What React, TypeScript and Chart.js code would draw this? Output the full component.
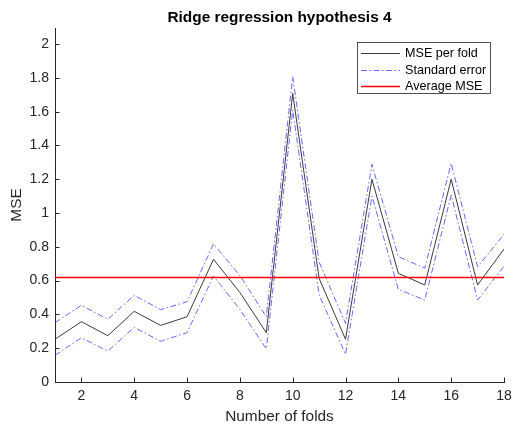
import React, { useEffect, useRef } from 'react';
import { Chart, registerables } from 'chart.js';

Chart.register(...registerables);

const folds = [1, 2, 3, 4, 5, 6, 7, 8, 9, 10, 11, 12, 13, 14, 15, 16, 17, 18];
const msePerFold = [0.253, 0.357, 0.274, 0.418, 0.335, 0.386, 0.726, 0.53, 0.292, 1.708, 0.613, 0.253, 1.2, 0.643, 0.574, 1.2, 0.574, 0.787];
const seUpper = [0.351, 0.454, 0.371, 0.513, 0.428, 0.475, 0.817, 0.63, 0.386, 1.807, 0.71, 0.347, 1.288, 0.742, 0.673, 1.294, 0.682, 0.874];
const seLower = [0.158, 0.262, 0.183, 0.323, 0.241, 0.292, 0.627, 0.43, 0.196, 1.61, 0.516, 0.164, 1.1, 0.548, 0.485, 1.106, 0.485, 0.686];
const averageMse = 0.618;
const xTicks = [2, 4, 6, 8, 10, 12, 14, 16, 18];
const yTicks = [0, 0.2, 0.4, 0.6, 0.8, 1, 1.2, 1.4, 1.6, 1.8, 2];
const legendLabels = ['MSE per fold', 'Standard error', 'Average MSE'];
const chartTitle = 'Ridge regression hypothesis 4';

const FONT = '"Liberation Sans", Arial, Helvetica, sans-serif';
const AXIS_COLOR = '#262626';
const BLACK_LINE = '#3a3a3a';
const BLUE_LINE = 'rgba(50, 50, 255, 0.75)';
const RED_LINE = '#ff0000';
const DASH_DOT = [6, 2.5, 1.5, 2.5];

const decorPlugin = {
  id: 'decor',
  afterDatasetsDraw(chart: any) {
    const { ctx, chartArea, scales } = chart;
    const xs = scales.x;
    const ys = scales.y;
    ctx.save();
    // title centred over the plot area
    ctx.fillStyle = '#000000';
    ctx.font = `bold 15.4px ${FONT}`;
    ctx.textAlign = 'center';
    ctx.textBaseline = 'middle';
    ctx.fillText(chartTitle, (chartArea.left + chartArea.right) / 2, 17.5);

    // inward ticks
    ctx.strokeStyle = AXIS_COLOR;
    ctx.lineWidth = 1;
    ctx.setLineDash([]);
    const tl = 4.5;
    ctx.beginPath();
    for (const v of xTicks) {
      const px = Math.round(xs.getPixelForValue(v)) + 0.5;
      ctx.moveTo(px, chartArea.bottom);
      ctx.lineTo(px, chartArea.bottom - tl);
    }
    for (const v of yTicks) {
      const py = Math.round(ys.getPixelForValue(v)) + 0.5;
      ctx.moveTo(chartArea.left, py);
      ctx.lineTo(chartArea.left + tl, py);
    }
    ctx.stroke();

    // legend box
    const bx = 357.5;
    const by = 42.5;
    const bw = 133;
    const bh = 51;
    ctx.fillStyle = '#ffffff';
    ctx.fillRect(bx, by, bw, bh);
    ctx.strokeStyle = '#262626';
    ctx.lineWidth = 0.8;
    ctx.strokeRect(bx, by, bw, bh);

    const rows = [53, 70, 86];
    const styles = [
      { color: BLACK_LINE, width: 1, dash: [] as number[] },
      { color: BLUE_LINE, width: 1, dash: DASH_DOT },
      { color: RED_LINE, width: 1.6, dash: [] as number[] },
    ];
    ctx.font = `12.6px ${FONT}`;
    ctx.textBaseline = 'middle';
    ctx.textAlign = 'left';
    legendLabels.forEach((label, i) => {
      const s = styles[i];
      ctx.strokeStyle = s.color;
      ctx.lineWidth = s.width;
      ctx.setLineDash(s.dash);
      ctx.beginPath();
      ctx.moveTo(361, rows[i] + 0.5);
      ctx.lineTo(400, rows[i] + 0.5);
      ctx.stroke();
      ctx.setLineDash([]);
      ctx.fillStyle = '#000000';
      ctx.fillText(label, 405, rows[i] + 1);
    });
    ctx.restore();
  },
};

export default function App() {
  const canvasRef = useRef<HTMLCanvasElement | null>(null);

  useEffect(() => {
    const canvas = canvasRef.current;
    if (!canvas) return;
    const toPoints = (arr: number[]) => folds.map((f, i) => ({ x: f, y: arr[i] }));
    const chart = new Chart(canvas, {
      type: 'line',
      data: {
        datasets: [
          {
            label: legendLabels[0],
            data: toPoints(msePerFold),
            borderColor: BLACK_LINE,
            borderWidth: 1,
            pointRadius: 0,
            tension: 0,
            order: 3,
          },
          {
            label: legendLabels[1],
            data: toPoints(seUpper),
            borderColor: BLUE_LINE,
            borderWidth: 1,
            borderDash: DASH_DOT,
            pointRadius: 0,
            tension: 0,
            order: 2,
          },
          {
            label: legendLabels[1] + ' (lower)',
            data: toPoints(seLower),
            borderColor: BLUE_LINE,
            borderWidth: 1,
            borderDash: DASH_DOT,
            pointRadius: 0,
            tension: 0,
            order: 1,
          },
          {
            label: legendLabels[2],
            data: [
              { x: folds[0], y: averageMse },
              { x: folds[folds.length - 1], y: averageMse },
            ],
            borderColor: RED_LINE,
            borderWidth: 1.6,
            pointRadius: 0,
            tension: 0,
            order: 0,
          },
        ],
      },
      options: {
        responsive: false,
        animation: false,
        devicePixelRatio: 1,
        layout: { padding: { left: 0, right: 8, top: 28, bottom: 0 } },
        plugins: {
          legend: { display: false },
          tooltip: { enabled: false },
          title: { display: false },
        },
        scales: {
          x: {
            type: 'linear',
            min: 1,
            max: 18,
            afterBuildTicks: (s: any) => {
              s.ticks = xTicks.map((v) => ({ value: v }));
            },
            afterFit: (s: any) => {
              s.height = 45;
              s.paddingLeft = 0;
              s.paddingRight = 0;
            },
            ticks: {
              color: AXIS_COLOR,
              font: { family: FONT, size: 14 },
              padding: 6,
              maxRotation: 0,
              autoSkip: false,
              callback: (v: any) => String(v),
            },
            grid: { display: false, drawTicks: false },
            border: { display: true, color: AXIS_COLOR, width: 1 },
            title: {
              display: true,
              text: 'Number of folds',
              color: AXIS_COLOR,
              font: { family: FONT, size: 15.4 },
              padding: { top: 0, bottom: 1.3 },
            },
          },
          y: {
            type: 'linear',
            min: 0,
            max: 2.095,
            afterBuildTicks: (s: any) => {
              s.ticks = yTicks.map((v) => ({ value: v }));
            },
            afterFit: (s: any) => {
              s.width = 55;
              s.paddingTop = 0;
              s.paddingBottom = 0;
            },
            ticks: {
              color: AXIS_COLOR,
              font: { family: FONT, size: 14 },
              padding: 6,
              autoSkip: false,
              callback: (v: any) => String(Math.round(Number(v) * 10) / 10),
            },
            grid: { display: false, drawTicks: false },
            border: { display: true, color: AXIS_COLOR, width: 1 },
            title: {
              display: true,
              text: 'MSE',
              color: AXIS_COLOR,
              font: { family: FONT, size: 15.4 },
              padding: { top: 7.8, bottom: 0 },
            },
          },
        },
      },
      plugins: [decorPlugin],
    } as any);
    return () => {
      chart.destroy();
    };
  }, []);

  return (
    <div style={{ position: 'absolute', left: 0, top: 0, width: 512, height: 427, background: '#ffffff' }}>
      <canvas ref={canvasRef} width={512} height={427} style={{ display: 'block' }} />
    </div>
  );
}
